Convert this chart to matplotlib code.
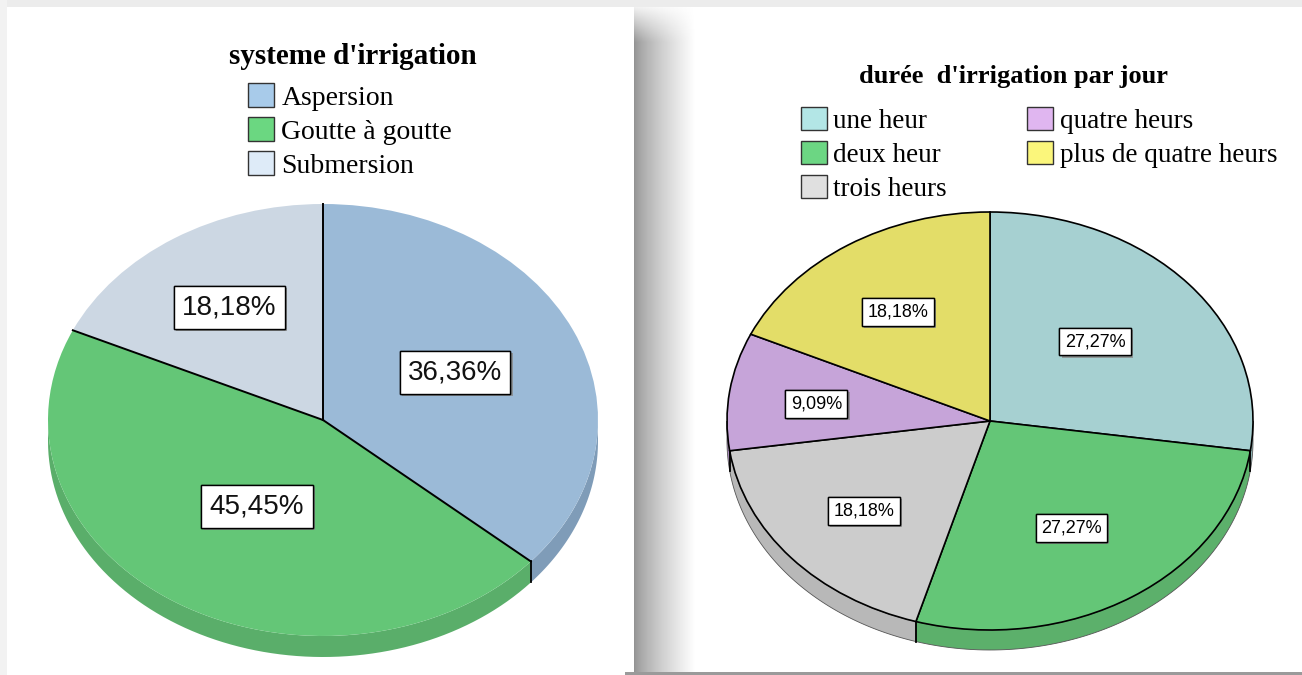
import numpy as np
import matplotlib
matplotlib.use("Agg")
import matplotlib.pyplot as plt
from matplotlib.patches import Polygon, Patch, Rectangle
import matplotlib.patheffects as pe

### data

sys_title = "systeme d'irrigation"
sys_labels = ["Aspersion", "Goutte à goutte", "Submersion"]
sys_counts = [4, 5, 2]
sys_legend_colors = ["#a8cbea", "#6bd781", "#deebf8"]
sys_top_colors = ["#9bbad7", "#64c677", "#ccd7e3"]
sys_side_colors = ["#7f9cb8", "#5aae6a", "#aab4c0"]

dur_title = "durée  d'irrigation par jour"
dur_labels = ["une heur", "deux heur", "trois heurs", "quatre heurs", "plus de quatre heurs"]
dur_counts = [3, 3, 2, 1, 2]
dur_legend_colors = ["#b3e6e6", "#6cd683", "#e0e0e0", "#e0b6f0", "#fbf67b"]
dur_top_colors = ["#a6d0d1", "#64c677", "#cccccc", "#c6a4d9", "#e3dd68"]
dur_side_colors = ["#8eb3b4", "#5cb06b", "#b8b8b8", "#a98bbb", "#c4bf58"]

### layout (pixels)

W, H = 1302, 675
# label box centres, in units of the pie radius (x right, y up)
sys_label_pos = [(0.48, 0.22), (-0.24, -0.40), (-0.34, 0.52)]
dur_label_pos = [(0.40, 0.38), (0.31, -0.51), (-0.48, -0.43), (-0.66, 0.08), (-0.35, 0.52)]


def pct_text(v, total):
    return ("%.2f%%" % (100.0 * v / total)).replace(".", ",")


def pie_axes(fig, cx, cy, rx, ry):
    # axes where radius 1 -> rx px across and ry px down
    x0, x1, y0, y1 = -1.1, 1.1, -1.25, 1.1
    left = (cx + x0 * rx) / W
    bottom = (H - (cy - y0 * ry)) / H
    ax = fig.add_axes([left, bottom, (x1 - x0) * rx / W, (y1 - y0) * ry / H])
    return ax, (x0, x1, y0, y1)


def draw_pie3d(ax, lims, counts, top_colors, side_colors, depth, label_pos,
               outline, font):
    total = float(sum(counts))
    wedges, _ = ax.pie(counts, colors=top_colors, startangle=90, counterclock=False,
                       radius=1.0,
                       wedgeprops=dict(edgecolor="black" if outline else "none",
                                       linewidth=1.2, zorder=2))
    ax.set_aspect("auto")
    ax.set_xlim(lims[0], lims[1])
    ax.set_ylim(lims[2], lims[3])
    ax.axis("off")

    cum = np.concatenate([[0], np.cumsum(counts)]) / total * 360.0
    for i in range(len(counts)):
        ts, te = max(cum[i], 90.0), min(cum[i + 1], 270.0)
        if ts < te:
            t = np.radians(np.linspace(ts, te, 80))
            top = np.column_stack([np.sin(t), np.cos(t)])
            bot = top - [0, depth]
            ax.add_patch(Polygon(np.vstack([top, bot[::-1]]), closed=True,
                                 facecolor=side_colors[i],
                                 edgecolor="#555555" if outline else "none",
                                 linewidth=0.6, zorder=1))
    # radial lines and visible vertical edges
    for a in cum[:-1]:
        r = np.radians(a)
        if not outline:
            ax.plot([0, np.sin(r)], [0, np.cos(r)], color="black", lw=1.4, zorder=3)
        if 90 < a < 270:
            ax.plot([np.sin(r)] * 2, [np.cos(r), np.cos(r) - depth],
                    color="black", lw=1.3, zorder=3)

    for v, (lx, ly) in zip(counts, label_pos):
        t = ax.text(lx, ly, pct_text(v, total), ha="center", va="center", zorder=5,
                    **font, bbox=dict(boxstyle="square,pad=0.3", fc="white",
                                      ec="black", lw=1))
        t.get_bbox_patch().set_path_effects(
            [pe.withSimplePatchShadow(offset=(1.5, -1.5), shadow_rgbFace="#888888",
                                      alpha=0.8), pe.Normal()])


fig = plt.figure(figsize=(W / 100, H / 100), dpi=100)
fig.patch.set_facecolor("white")

# page frame and shadow between the two panels
bg = fig.add_axes([0, 0, 1, 1])
bg.set_xlim(0, W)
bg.set_ylim(H, 0)
bg.axis("off")
bg.add_patch(Rectangle((0, 0), W, 7, color="#ececec", lw=0))
bg.add_patch(Rectangle((0, 0), 7, H, color="#f2f2f2", lw=0))
gx = np.linspace(0, 1, 60)
shade = 0.58 + 0.42 * gx ** 0.75
gy = np.clip(np.linspace(0, H, 200) / 40.0, 0, 1)
grad = 1 - np.outer(gy, 1 - shade)
bg.imshow(grad, cmap="gray", vmin=0, vmax=1, extent=(634, 696, H, 0), aspect="auto",
          interpolation="bilinear")
bg.add_patch(Rectangle((625, 672), W - 625, 3, color="#9a9a9a", lw=0))
bg.set_xlim(0, W)
bg.set_ylim(H, 0)

# left chart
ax1, lims1 = pie_axes(fig, 323, 420, 275, 216)
draw_pie3d(ax1, lims1, sys_counts, sys_top_colors, sys_side_colors, 21 / 216.0,
           sys_label_pos, outline=False,
           font=dict(fontsize=20, family="Liberation Sans", color="#111111"))
fig.text(353 / W, 1 - 56 / H, sys_title, ha="center", va="center", fontsize=21,
         fontweight="bold", family="Liberation Serif")
fig.legend(handles=[Patch(facecolor=c, edgecolor="#333333", lw=1) for c in sys_legend_colors],
           labels=sys_labels, loc="upper left", bbox_to_anchor=(248 / W, 1 - 83 / H),
           frameon=False, prop=dict(family="Liberation Serif", size=20),
           handlelength=0.95, handleheight=0.95, handletextpad=0.25,
           labelspacing=0.24, borderpad=0, borderaxespad=0)

# right chart
ax2, lims2 = pie_axes(fig, 990, 421, 263, 209)
draw_pie3d(ax2, lims2, dur_counts, dur_top_colors, dur_side_colors, 20 / 209.0,
           dur_label_pos, outline=True,
           font=dict(fontsize=13, family="Liberation Sans", color="black"))
fig.text(1013 / W, 1 - 77 / H, dur_title, ha="center", va="center", fontsize=19,
         fontweight="bold", family="Liberation Serif")
fig.legend(handles=[Patch(facecolor=c, edgecolor="#333333", lw=1) for c in dur_legend_colors],
           labels=dur_labels, loc="upper left", bbox_to_anchor=(801 / W, 1 - 107 / H),
           ncol=2, frameon=False, prop=dict(family="Liberation Serif", size=19.5),
           handlelength=0.95, handleheight=0.95, handletextpad=0.25,
           labelspacing=0.26, columnspacing=2.95, borderpad=0, borderaxespad=0)

fig.savefig("out.png", dpi=100, facecolor="white")
